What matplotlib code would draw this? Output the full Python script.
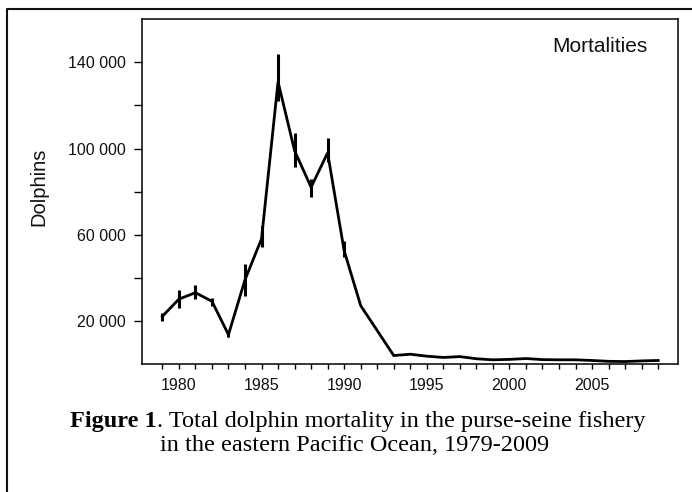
import numpy as np
import matplotlib
matplotlib.use("Agg")
from matplotlib import pyplot as plt
from matplotlib.lines import Line2D
from matplotlib.ticker import FixedLocator, FuncFormatter

# Dolphin mortality estimates
years = np.arange(1979, 2010)
mortality = [22000, 30000, 33000, 29000, 13500, 39000, 58000, 131000, 99000,
             82000, 98000, 52500, 27000, 15400, 3800, 4400, 3500, 2900, 3300,
             2300, 1800, 2000, 2400, 1900, 1800, 1800, 1500, 1100, 1000, 1300, 1500]
err_low = [19800, 26000, 29900, 26800, 12500, 31400, 54000, 122100, 91200,
           77500, 93500, 49500, 27000, 15400, 3800, 4400, 3500, 2900, 3300,
           2300, 1800, 2000, 2400, 1900, 1800, 1800, 1500, 1100, 1000, 1300, 1500]
err_high = [23400, 34100, 36600, 30700, 14500, 46200, 64000, 143900, 107400,
            85700, 105100, 57000, 27000, 15400, 3800, 4400, 3500, 2900, 3300,
            2300, 1800, 2000, 2400, 1900, 1800, 1800, 1500, 1100, 1000, 1300, 1500]

ytick_vals = [20000, 40000, 60000, 80000, 100000, 120000, 140000]
ytick_shown = [20000, 60000, 100000, 140000]
xtick_shown = [1980, 1985, 1990, 1995, 2000, 2005]

W, H = 692, 492
fig = plt.figure(figsize=(W / 100, H / 100), dpi=100)
fig.patch.set_facecolor("white")

ax = fig.add_axes([141.7 / W, 1 - 363.7 / H, (678 - 141.7) / W, (363.7 - 19.4) / H])

mort = np.array(mortality)
lo = mort - np.array(err_low)
hi = np.array(err_high) - mort
ax.errorbar(years, mort, yerr=[lo, hi], fmt="none", ecolor="black", elinewidth=2.2, capsize=0)
ax.plot(years, mort, color="black", lw=2.0, solid_joinstyle="miter")

ax.set_xlim(1977.75, 2010.2)
ax.set_ylim(0, 160000)

ax.xaxis.set_major_locator(FixedLocator(years))
ax.xaxis.set_major_formatter(FuncFormatter(lambda v, p: str(int(round(v))) if int(round(v)) in xtick_shown else ""))
ax.yaxis.set_major_locator(FixedLocator(ytick_vals))
ax.yaxis.set_major_formatter(FuncFormatter(
    lambda v, p: f"{int(v):,}".replace(",", " ") if int(v) in ytick_shown else ""))

for lab in ax.get_xticklabels() + ax.get_yticklabels():
    lab.set_fontfamily("Liberation Sans")
    lab.set_fontsize(11.5)
    lab.set_color("#111111")
ax.tick_params(axis="x", direction="out", length=3.4, width=1.0, pad=7)
ax.tick_params(axis="y", direction="out", length=5.5, width=1.0, pad=6)
for s in ax.spines.values():
    s.set_linewidth(1.1)
    s.set_color("black")

fig.text(39 / W, 1 - 187 / H, "Dolphins", rotation=90, ha="center", va="center",
         fontsize=14.5, family="Liberation Sans", color="#111111")
fig.text(552.7 / W, 1 - 51.7 / H, "Mortalities", ha="left", va="baseline",
         fontsize=15, family="Liberation Sans", color="#111111")

# outer frame (top and left edges visible)
fig.add_artist(Line2D([6.7 / W, 6.7 / W, 1.0], [0.0, 1 - 8.6 / H, 1 - 8.6 / H],
                      transform=fig.transFigure, color="#111111", lw=1.5))

# caption, bold lead followed by normal text, line 1 centred at x=357
cap_size = 17.5
renderer = fig.canvas.get_renderer()
t1 = fig.text(0, 1 - 426.7 / H, "Figure 1", ha="left", va="baseline",
              fontsize=cap_size, family="Liberation Serif", weight="bold")
t2 = fig.text(0, 1 - 426.7 / H, ". Total dolphin mortality in the purse-seine fishery",
              ha="left", va="baseline", fontsize=cap_size, family="Liberation Serif")
w1 = t1.get_window_extent(renderer=renderer).width
w2 = t2.get_window_extent(renderer=renderer).width
x0 = 357.5 - (w1 + w2) / 2
t1.set_x(x0 / W)
t2.set_x((x0 + w1) / W)
fig.text(354.5 / W, 1 - 451 / H, "in the eastern Pacific Ocean, 1979-2009",
         ha="center", va="baseline", fontsize=cap_size, family="Liberation Serif")

fig.savefig("out.png", dpi=100)
